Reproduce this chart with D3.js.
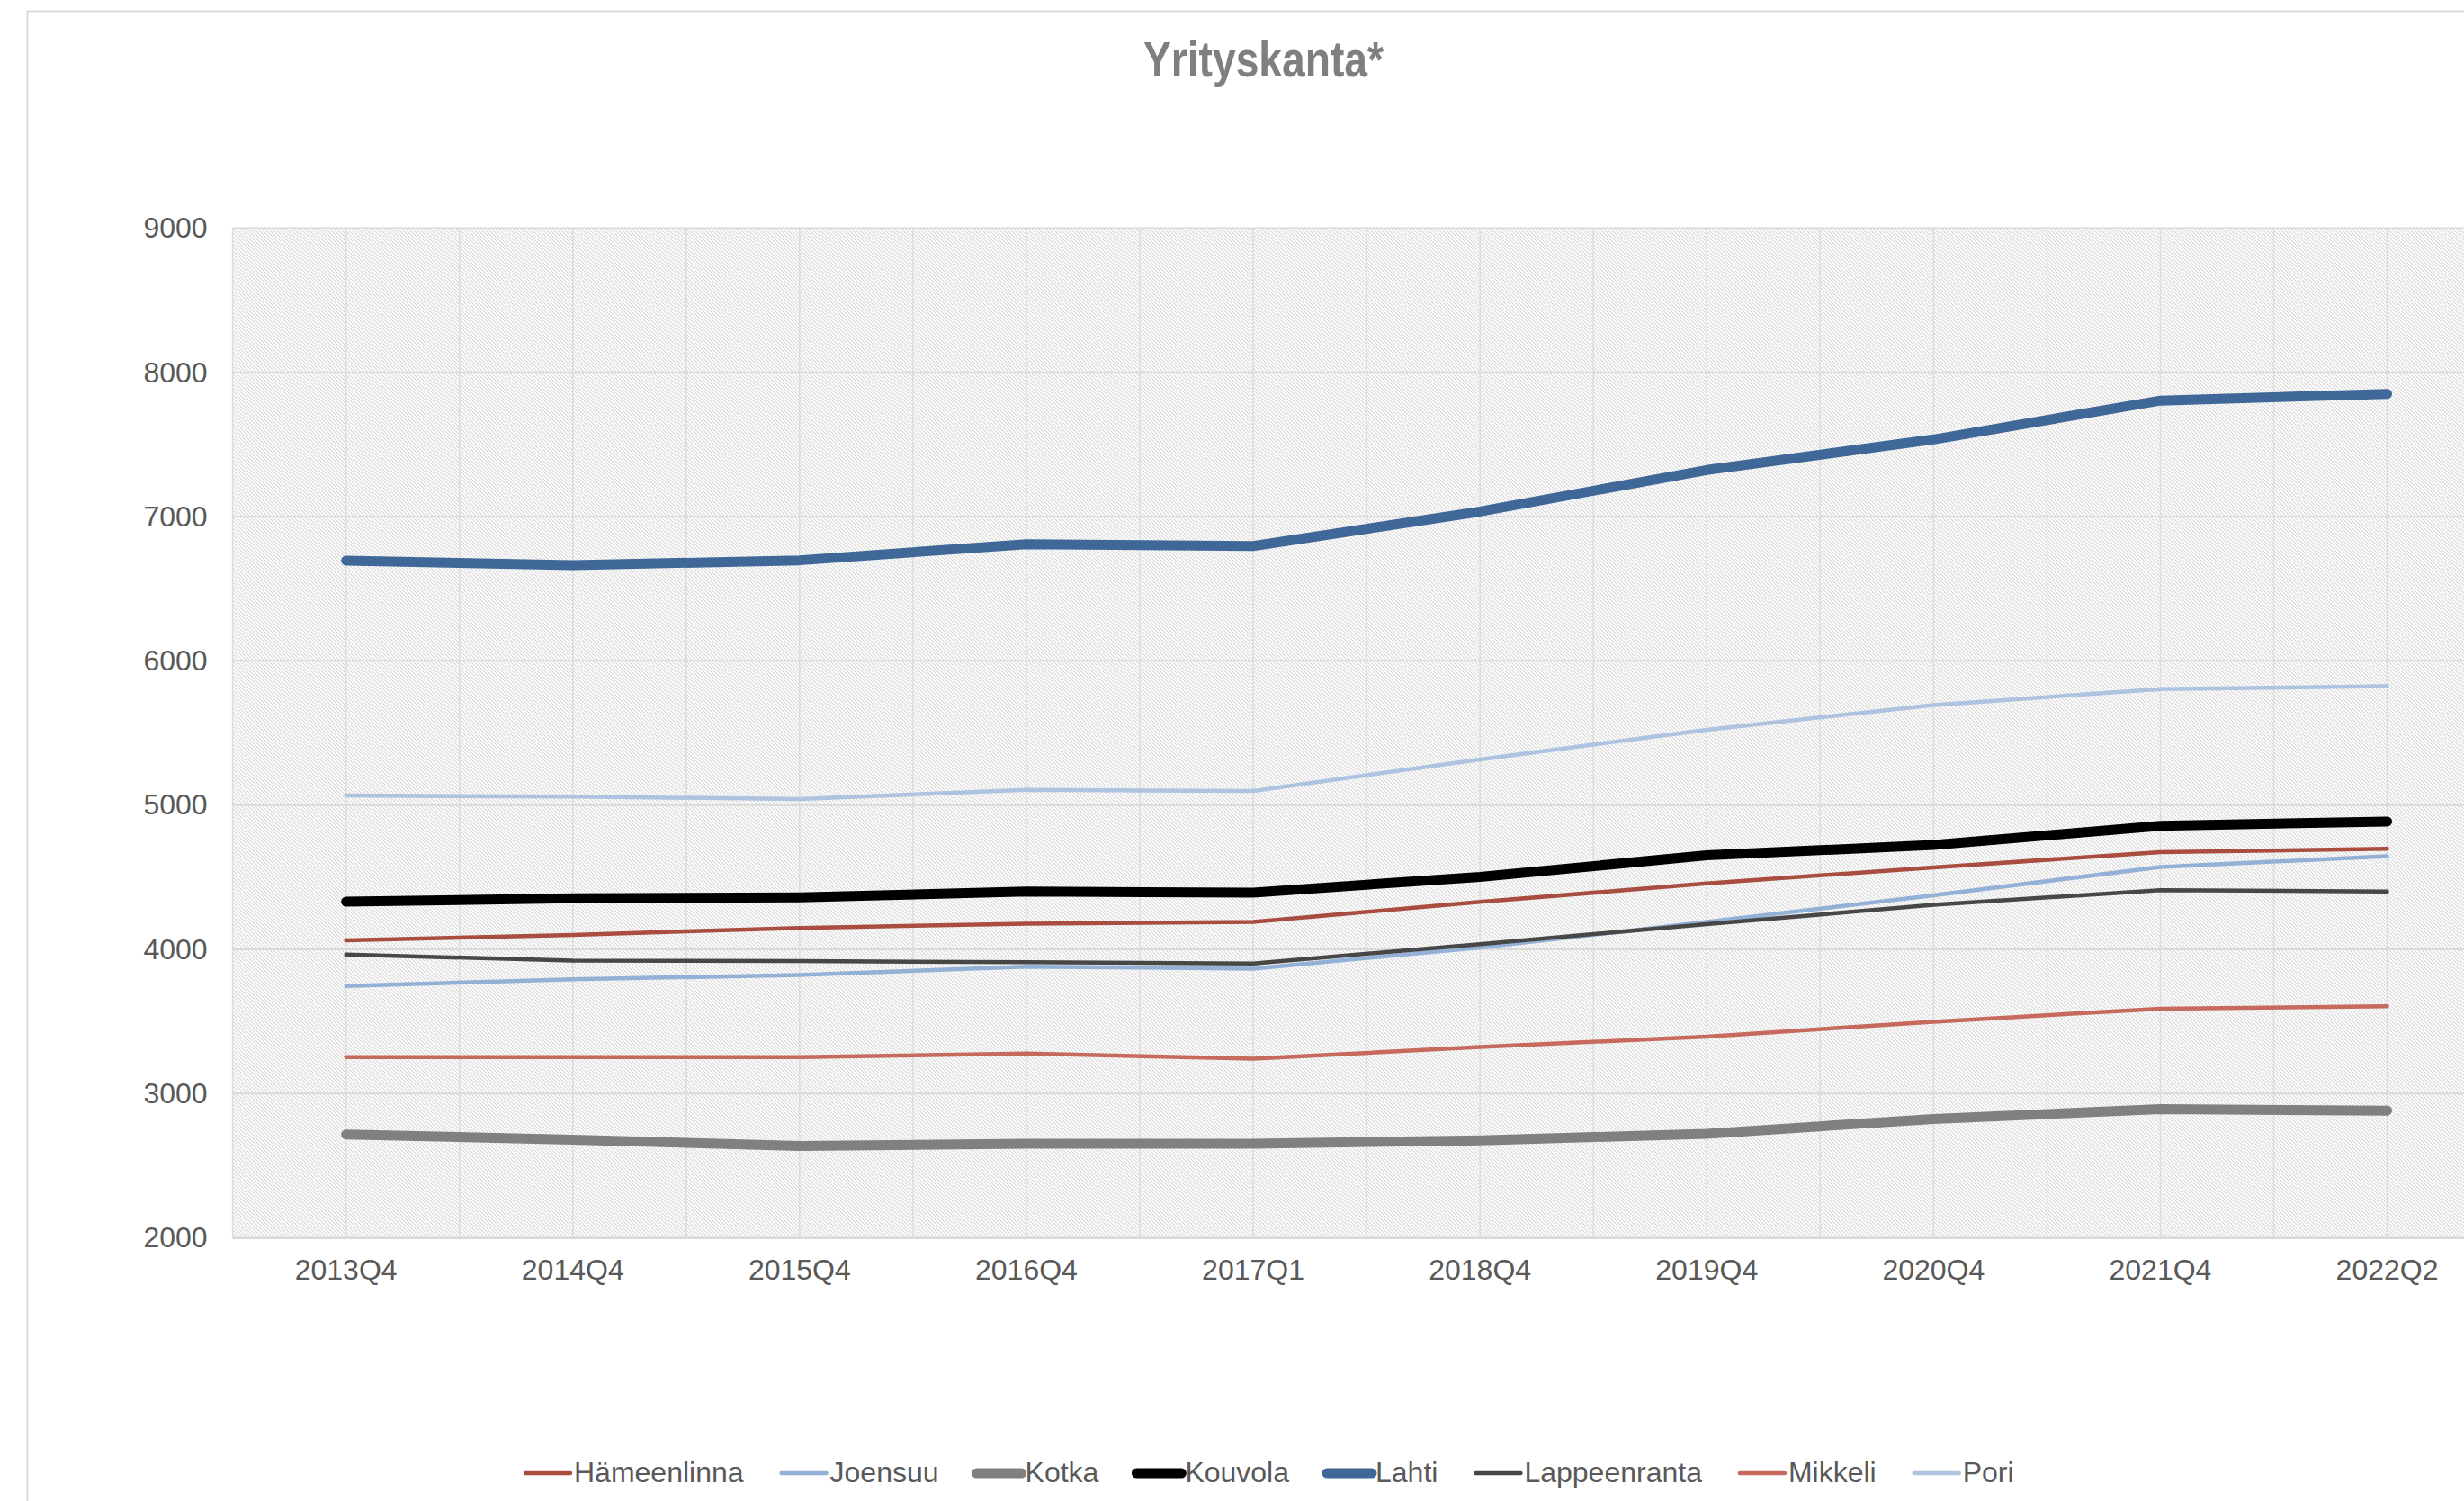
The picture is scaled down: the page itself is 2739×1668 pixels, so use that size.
<!DOCTYPE html>
<html>
<head>
<meta charset="utf-8">
<script src="https://d3js.org/d3.v7.min.js"></script>
<style>
  body { margin: 0; background: #fff; }
  text { font-family: "Liberation Sans", Arial, sans-serif; }
</style>
</head>
<body>
<div id="chart"></div>
<script>
const categories = ["2013Q4", "2014Q4", "2015Q4", "2016Q4", "2017Q1", "2018Q4", "2019Q4", "2020Q4", "2021Q4", "2022Q2"];
const yTicks = [2000, 3000, 4000, 5000, 6000, 7000, 8000, 9000];

const hameenlinna = [4062, 4100, 4148, 4178, 4190, 4328, 4456, 4568, 4673, 4697];
const joensuu = [3745, 3792, 3822, 3880, 3866, 4012, 4190, 4374, 4571, 4645];
const kotka = [2716, 2680, 2637, 2652, 2652, 2675, 2721, 2824, 2892, 2882];
const kouvola = [4330, 4353, 4360, 4400, 4393, 4502, 4651, 4723, 4856, 4886];
const lahti = [6695, 6663, 6697, 6809, 6796, 7035, 7323, 7535, 7804, 7851];
const lappeenranta = [3963, 3922, 3918, 3910, 3902, 4036, 4174, 4308, 4410, 4400];
const mikkeli = [3253, 3253, 3253, 3277, 3242, 3322, 3395, 3498, 3588, 3605];
const pori = [5066, 5058, 5042, 5105, 5098, 5316, 5522, 5694, 5804, 5825];

const seriesNames = ["Hämeenlinna", "Joensuu", "Kotka", "Kouvola", "Lahti", "Lappeenranta", "Mikkeli", "Pori"];
const seriesValues = [hameenlinna, joensuu, kotka, kouvola, lahti, lappeenranta, mikkeli, pori];
const seriesColors = ["#a84d3f", "#93b1d6", "#808080", "#000000", "#3f6898", "#474747", "#c66a5d", "#adc3e0"];
const seriesWidths = [4.5, 4.5, 11, 11, 11, 4.5, 4.5, 4.5];

const W = 2739, H = 1668;
const plot = {left: 258.6, top: 253.5, width: 2521, height: 1122};

const svg = d3.select("#chart").append("svg")
  .attr("width", W)
  .attr("height", H);

// hatch fill of the plot area
const pat = svg.append("defs").append("pattern")
  .attr("id", "hatch")
  .attr("patternUnits", "userSpaceOnUse")
  .attr("width", 4)
  .attr("height", 4);
pat.append("rect").attr("width", 4).attr("height", 4).attr("fill", "#fff");
pat.append("path")
  .attr("d", "M-1,-1L5,5M-1,3L1,5M3,-1L5,1")
  .attr("stroke", "#d8d8d8")
  .attr("stroke-width", 1.1);

// chart frame
svg.append("rect")
  .attr("x", 30.5).attr("y", 12.5)
  .attr("width", 2760).attr("height", 1700)
  .attr("fill", "#fff")
  .attr("stroke", "#d9d9d9")
  .attr("stroke-width", 2);

svg.append("text")
  .attr("x", 1404.5).attr("y", 85)
  .attr("text-anchor", "middle")
  .attr("font-size", 56)
  .attr("font-weight", "bold")
  .attr("fill", "#7f7f7f")
  .attr("textLength", 267)
  .attr("lengthAdjust", "spacingAndGlyphs")
  .text("Yrityskanta*");

const x = d3.scaleBand()
  .domain(categories)
  .range([plot.left, plot.left + plot.width]);

const y = d3.scaleLinear()
  .domain([2000, 9000])
  .range([plot.top + plot.height, plot.top]);

const g = svg.append("g");

g.append("rect")
  .attr("x", plot.left).attr("y", plot.top)
  .attr("width", plot.width).attr("height", plot.height)
  .attr("fill", "url(#hatch)");

// vertical gridlines at category centres and boundaries
const vlines = [];
categories.forEach(c => { vlines.push(x(c)); vlines.push(x(c) + x.bandwidth() / 2); });
g.selectAll(".vgrid")
  .data(vlines)
  .join("line")
  .attr("x1", d => d).attr("x2", d => d)
  .attr("y1", plot.top).attr("y2", plot.top + plot.height)
  .attr("stroke", "#dcdcdc")
  .attr("stroke-width", 1.5);

g.selectAll(".hgrid")
  .data(yTicks)
  .join("line")
  .attr("x1", plot.left).attr("x2", plot.left + plot.width)
  .attr("y1", d => y(d)).attr("y2", d => y(d))
  .attr("stroke", "#d9d9d9")
  .attr("stroke-width", 2);

const yAxis = svg.append("g")
  .attr("transform", `translate(${plot.left},0)`)
  .call(d3.axisLeft(y).tickValues(yTicks).tickFormat(d3.format("d")).tickSize(0).tickPadding(28));
yAxis.select(".domain").remove();
yAxis.selectAll("text")
  .attr("font-family", "Liberation Sans, Arial, sans-serif")
  .attr("font-size", 32)
  .attr("fill", "#595959");

const xAxis = svg.append("g")
  .attr("transform", `translate(0,${plot.top + plot.height})`)
  .call(d3.axisBottom(x).tickSize(0).tickPadding(24));
xAxis.select(".domain")
  .attr("stroke", "#d9d9d9")
  .attr("stroke-width", 2);
xAxis.selectAll("text")
  .attr("font-family", "Liberation Sans, Arial, sans-serif")
  .attr("font-size", 32)
  .attr("fill", "#595959");

const line = d3.line()
  .x((d, i) => x(categories[i]) + x.bandwidth() / 2)
  .y(d => y(d));

seriesValues.forEach((vals, k) => {
  g.append("path")
    .datum(vals)
    .attr("fill", "none")
    .attr("stroke", seriesColors[k])
    .attr("stroke-width", seriesWidths[k])
    .attr("stroke-linejoin", "round")
    .attr("stroke-linecap", "round")
    .attr("d", line);
});

// legend
const legend = svg.append("g").attr("transform", "translate(0,1637)");
let lx = 582;
seriesNames.forEach((name, k) => {
  const item = legend.append("g");
  item.append("line")
    .attr("x1", lx + 2).attr("x2", lx + 52)
    .attr("y1", 0).attr("y2", 0)
    .attr("stroke", seriesColors[k])
    .attr("stroke-width", seriesWidths[k])
    .attr("stroke-linecap", "round");
  const t = item.append("text")
    .attr("x", lx + 56).attr("y", 10)
    .attr("font-size", 32)
    .attr("fill", "#595959")
    .text(name);
  lx += 56 + t.node().getComputedTextLength() + 40;
});
</script>
</body>
</html>
